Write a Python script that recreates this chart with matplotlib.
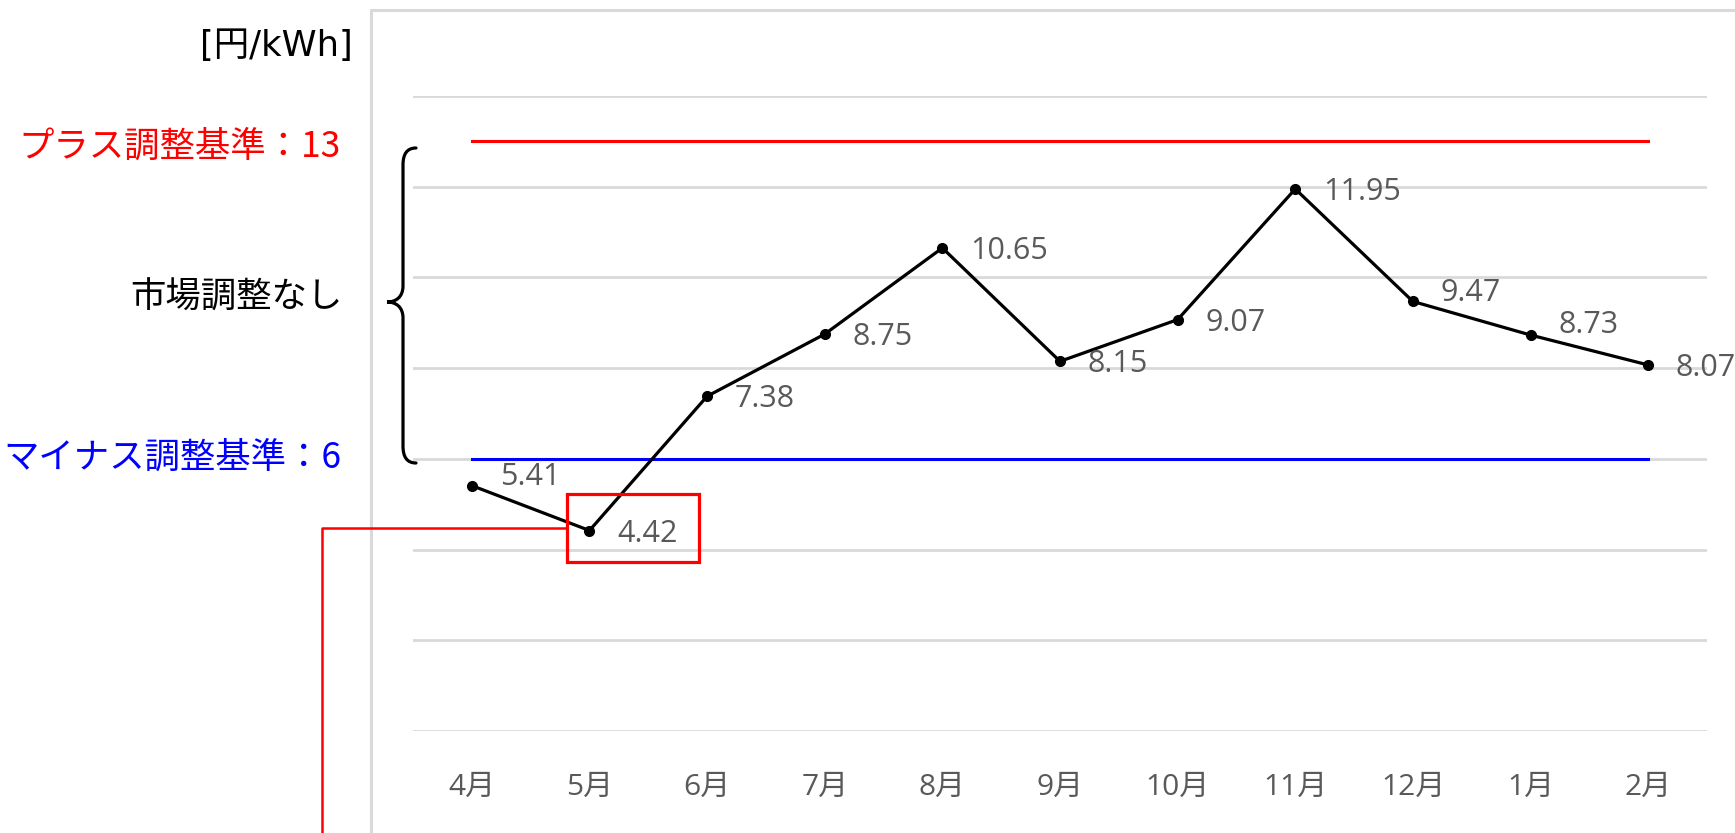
import numpy as np
import matplotlib.pyplot as plt
from matplotlib.path import Path
from matplotlib.patches import PathPatch, Rectangle
from matplotlib.lines import Line2D

# -----------------------------
# DATA
# -----------------------------
months = ["4月", "5月", "6月", "7月", "8月", "9月", "10月", "11月", "12月", "1月", "2月"]
prices = [5.41, 4.42, 7.38, 8.75, 10.65, 8.15, 9.07, 11.95, 9.47, 8.73, 8.07]
plus_ref = 13
minus_ref = 6
y_ticks = [0, 2, 4, 6, 8, 10, 12, 14]

unit_label = "[円/kWh]"
plus_label = "プラス調整基準：13"
none_label = "市場調整なし"
minus_label = "マイナス調整基準：6"

# Colors
GRID = "#D9D9D9"
LABEL = "#595959"
RED = "#FF0000"
BLUE = "#0000FF"

W, H = 1735, 833
CJK = ["Noto Sans CJK JP", "DejaVu Sans"]
WIDE = ["DejaVu Sans", "Noto Sans CJK JP"]
NUM = ["Open Sans", "Noto Sans CJK JP"]

# label nudges (pixels up) where the label sits above the point
nudge = {0: 12, 8: 11, 9: 13}


def fx(px):
    return px / W


def fy(py):
    return 1 - py / H


fig = plt.figure(figsize=(W / 100, H / 100), dpi=100)
ax = fig.add_axes([fx(413), fy(731), fx(1707) - fx(413), fy(96) - fy(731)])

x = np.arange(len(months))

# reference lines
ax.plot(x, [plus_ref] * len(x), color=RED, lw=2.2, zorder=3)
ax.plot(x, [minus_ref] * len(x), color=BLUE, lw=2.2, zorder=3)

# main series
ax.plot(x, prices, color="black", lw=2.3, marker="o", ms=7, zorder=4)

for i, v in enumerate(prices):
    dy = (nudge.get(i, 0) - 3) * 0.72
    ax.annotate(f"{v:.2f}", (i, v), xytext=(20, dy),
                textcoords="offset points", ha="left", va="center",
                fontsize=22, color=LABEL, family=NUM, zorder=5)

ax.set_xlim(-0.5, len(x) - 0.5)
ax.set_ylim(0, 14)
ax.set_yticks(y_ticks)
ax.yaxis.grid(True, color=GRID, lw=2)
ax.set_axisbelow(True)
ax.tick_params(axis="y", left=False, labelleft=False)
ax.set_xticks(x)
ax.set_xticklabels(months, family=NUM, fontsize=21.5, color=LABEL)
ax.tick_params(axis="x", length=0, pad=30)
for s in ax.spines.values():
    s.set_visible(False)

# chart frame (partially visible)
fig.add_artist(Line2D([fx(371), fx(371), 1], [0, fy(10), fy(10)],
                      transform=fig.transFigure, color=GRID, lw=2.2))

# left side labels
fig.text(fx(353), fy(46), unit_label, ha="right", va="center",
         fontsize=25.5, family=WIDE, color="black")
fig.text(fx(341), fy(147), plus_label, ha="right", va="center",
         fontsize=25.5, family=CJK, color=RED)
fig.text(fx(342), fy(298), none_label, ha="right", va="center",
         fontsize=25.5, family=CJK, color="black")
fig.text(fx(341), fy(458), minus_label, ha="right", va="center",
         fontsize=25.5, family=CJK, color=BLUE)

# brace
top, bot, mid = 148, 463, 302
xe, xv, xt = 416, 403, 387
pts = [
    (xe, top), (407, top), (xv, top + 6), (xv, top + 17),
    (xv, mid - 16),
    (xv, mid - 5), (396, mid), (xt, mid),
    (396, mid), (xv, mid + 5), (xv, mid + 16),
    (xv, bot - 17),
    (xv, bot - 6), (407, bot), (xe, bot),
]
codes = [Path.MOVETO, Path.CURVE4, Path.CURVE4, Path.CURVE4,
         Path.LINETO,
         Path.CURVE4, Path.CURVE4, Path.CURVE4,
         Path.CURVE4, Path.CURVE4, Path.CURVE4,
         Path.LINETO,
         Path.CURVE4, Path.CURVE4, Path.CURVE4]
brace = Path([(fx(a), fy(b)) for a, b in pts], codes)
fig.add_artist(PathPatch(brace, transform=fig.transFigure, fill=False,
                         lw=2.3, edgecolor="black", capstyle="round"))

# red highlight box around the minimum label, with a leader line
px, py_disp = ax.transData.transform((1, min(prices)))
py = H - py_disp
bx0, bx1 = px - 22, px + 110
by0, by1 = py - 37, py + 31
fig.add_artist(Rectangle((fx(bx0), fy(by1)), fx(bx1) - fx(bx0), fy(by0) - fy(by1),
                         transform=fig.transFigure, fill=False,
                         edgecolor=RED, lw=2.3))
fig.add_artist(Line2D([fx(bx0), fx(322), fx(322)], [fy(py - 3), fy(py - 3), 0],
                      transform=fig.transFigure, color=RED, lw=1.8))

fig.savefig("out.png", dpi=100)
plt.close()
